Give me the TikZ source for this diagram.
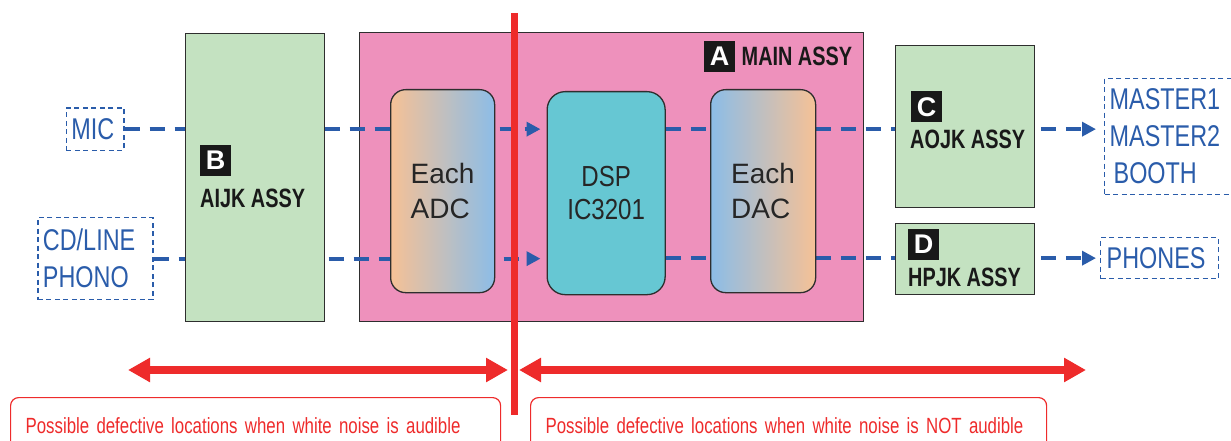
\documentclass[tikz,border=0pt]{standalone}
\usepackage{fontspec}
\setmainfont{Liberation Sans}
\newfontfamily\narrowfont[FakeStretch=0.78]{Liberation Sans}
\newfontfamily\narrowbold[FakeStretch=0.75]{Liberation Sans Bold}
\newfontfamily\slimfont[FakeStretch=0.83]{Liberation Sans}
\newfontfamily\notefont[FakeStretch=0.765]{Liberation Sans}
\usetikzlibrary{arrows.meta,positioning}

\definecolor{mainpink}{HTML}{EE91BC}
\definecolor{assygreen}{HTML}{C4E2C1}
\definecolor{dspcyan}{HTML}{66C7D3}
\definecolor{convorange}{HTML}{F6C196}
\definecolor{convblue}{HTML}{8CBDE7}
\definecolor{sigblue}{HTML}{2A5CAA}
\definecolor{noisered}{HTML}{EE2B2B}
\definecolor{framegray}{HTML}{2E2E2E}

\pgfdeclarelayer{back}
\pgfdeclarelayer{wires}
\pgfsetlayers{back,wires,main}

\begin{document}
\begin{tikzpicture}[
  x=1pt, y=-1pt,
  assy/.style={draw=framegray,fill=assygreen,line width=1.3pt,inner sep=0pt,anchor=north west},
  chip/.style={draw=framegray,line width=1.3pt,rounded corners=15pt,inner sep=0pt,anchor=north west,
    align=left,text=black!85,font=\fontsize{28}{35}\selectfont},
  tag/.style={fill=black!90,text=white,minimum size=31pt,inner sep=0pt,font=\fontsize{27}{27}\selectfont\bfseries},
  assylbl/.style={anchor=base west,inner sep=0pt,text=black!90,font=\narrowbold\fontsize{26.5}{26.5}\selectfont},
  port/.style={draw=sigblue,dash pattern=on 5pt off 3.5pt,line width=1.3pt,text=sigblue,anchor=north west,
    align=left,inner xsep=5pt,inner ysep=0pt,font=\narrowfont\fontsize{30}{37}\selectfont},
  sig/.style={sigblue,line width=4pt,dash pattern=on 15pt off 10pt,-{Triangle[length=14pt,width=14pt]}},
  span/.style={noisered,line width=8pt,{Triangle[length=22pt,width=23pt]}-{Triangle[length=22pt,width=23pt]}},
  cutline/.style={noisered,line width=7pt},
  note/.style={draw=noisered,line width=1.2pt,rounded corners=8pt,text=noisered,anchor=north west,align=left,
    inner xsep=15pt,inner ysep=20pt,text height=16pt,text depth=40pt,font=\notefont\fontsize{22}{22}\selectfont}
]
\useasboundingbox (0,0) rectangle (1231,441);
\clip (0,0) rectangle (1231,441);

% main board
\begin{pgfonlayer}{back}
\node[draw=framegray,fill=mainpink,line width=1.3pt,inner sep=0pt,anchor=north west,
      minimum width=504pt,minimum height=289pt] (mainbox) at (359,32) {};
\end{pgfonlayer}
\node[tag] (tagA) at (719.5,56.5) {A};
\node[assylbl] (lblA) at (741.5,65.7) {MAIN ASSY};

% converters and dsp
\node[chip,left color=convorange,right color=convblue,minimum width=104pt,minimum height=203pt] (adc) at (390,89) {Each\\ADC};
\node[chip,fill=dspcyan,rounded corners=18pt,align=center,font=\slimfont\fontsize{29}{33}\selectfont,
      minimum width=118pt,minimum height=203pt] (dsp) at (546.5,91) {DSP\\IC3201};
\node[chip,left color=convblue,right color=convorange,minimum width=105pt,minimum height=203pt] (dac) at (710,89) {Each\\DAC};

% jack boards
\node[assy,minimum width=139.5pt,minimum height=288pt] (aijk) at (184.5,33) {};
\node[tag] (tagB) at (215.5,160.5) {B};
\node[assylbl] (lblB) at (200,207.3) {AIJK ASSY};

\node[assy,minimum width=139pt,minimum height=161.5pt] (aojk) at (895,45) {};
\node[tag] (tagC) at (926.5,107) {C};
\node[assylbl] (lblC) at (910,149) {AOJK ASSY};

\node[assy,minimum width=139pt,minimum height=71pt] (hpjk) at (895,223) {};
\node[tag] (tagD) at (923.5,244.5) {D};
\node[assylbl] (lblD) at (908,286) {HPJK ASSY};

% inputs / outputs
\node[port,text width=47.6pt,minimum height=42pt] (mic) at (65.7,107.5) {MIC};
\node[port,text width=105pt,minimum height=82pt] (cd) at (37.3,217) {CD/LINE\\PHONO};
\node[port,text width=140pt,minimum height=116.3pt] (master) at (1104,77.7) {MASTER1\\MASTER2\\\hspace*{4pt}BOOTH};
\node[port,inner xsep=6pt,text width=106pt,minimum height=41pt] (phones) at (1100,237) {PHONES};

% signal path
\begin{pgfonlayer}{wires}
\draw[sig,shorten >=6pt] (mic.east) -- (mic.east -| dsp.west);
\draw[sig,shorten >=8pt] (mic.east -| dsp.east) -- (mic.east -| master.west);
\draw[sig,shorten >=6pt] (cd.east) -- (cd.east -| dsp.west);
\draw[sig,shorten >=4pt] (phones.west -| dsp.east) -- (phones.west);
\end{pgfonlayer}

% noise ranges
\coordinate (audL) at (128,370);
\coordinate (audR) at (508,370);
\coordinate (mutL) at (519,370);
\coordinate (mutR) at (1086,370);
\draw[span] (audL) -- (audR);
\draw[span] (mutL) -- (mutR);

\node[note,text width=460pt] (audible) at (10,397) {\mbox{Possible defective locations when white noise is audible}};
\node[note,text width=486pt] (silent) at (530,397) {\mbox{Possible defective locations when white noise is NOT audible}};

\coordinate (cuttop) at (514,13);
\coordinate (cutbot) at (514,415);
\draw[cutline] (cuttop) -- (cutbot);
\end{tikzpicture}
\end{document}
